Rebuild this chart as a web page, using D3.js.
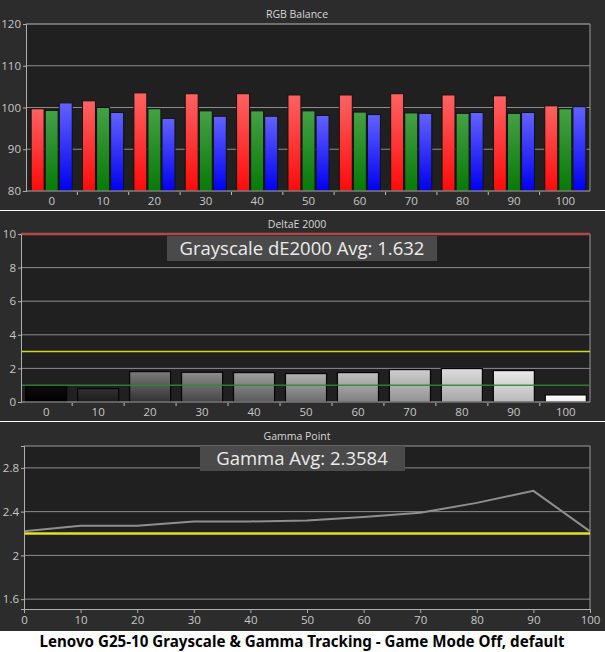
<!DOCTYPE html>
<html>
<head>
<meta charset="utf-8">
<script src="https://cdn.jsdelivr.net/npm/d3@7"></script>
<style>
  body { margin: 0; background: #fff; }
  svg { display: block; }
  .tick text { font-family: "Open Sans", sans-serif; font-size: 11.5px; fill: #c8c8c8; }
</style>
</head>
<body>
<svg id="chart" width="605" height="652"></svg>
<script>
// ---- data ----
const levels = [0, 10, 20, 30, 40, 50, 60, 70, 80, 90, 100];
const redVals   = [99.7, 101.6, 103.5, 103.3, 103.3, 103.0, 103.0, 103.3, 103.0, 102.8, 100.4];
const greenVals = [99.3, 100.0, 99.7, 99.2, 99.2, 99.2, 98.9, 98.7, 98.6, 98.6, 99.7];
const blueVals  = [101.1, 98.8, 97.4, 97.9, 97.9, 98.1, 98.3, 98.6, 98.8, 98.8, 100.2];
const rgbTicks = [80, 90, 100, 110, 120];

const deltaE = [0.93, 0.80, 1.81, 1.77, 1.75, 1.69, 1.75, 1.93, 1.99, 1.87, 0.42];
const deTicks = [0, 2, 4, 6, 8, 10];
const deAvg = "1.632";
const deLimits = [3, 1];      // yellow and green reference lines

const gammaVals = [2.22, 2.27, 2.27, 2.31, 2.31, 2.32, 2.35, 2.39, 2.48, 2.59, 2.22];
const gammaTarget = 2.2;
const gammaTicks = [1.6, 2, 2.4, 2.8];
const gammaAvg = "2.3584";

const caption = "Lenovo G25-10 Grayscale & Gamma Tracking - Game Mode Off, default";

const svg = d3.select("#chart");
const defs = svg.append("defs");

function grad(id, top, bottom) {
    const g = defs.append("linearGradient").attr("id", id)
        .attr("x1", 0).attr("y1", 0).attr("x2", 0).attr("y2", 1);
    g.append("stop").attr("offset", "0%").attr("stop-color", top);
    g.append("stop").attr("offset", "100%").attr("stop-color", bottom);
}
grad("gR", "#ff6262", "#ff0a0a");
grad("gG", "#45a045", "#067a06");
grad("gB", "#6262ff", "#0000f0");

// panel background + plot area + title
function panel(y0, y1, plot, title) {
    svg.append("rect").attr("x", 0).attr("y", y0).attr("width", 605).attr("height", y1 - y0)
        .attr("fill", "#2c2c2c");
    svg.append("rect").attr("x", plot.left).attr("y", plot.top)
        .attr("width", plot.right - plot.left).attr("height", plot.bottom - plot.top)
        .attr("fill", "#202020");
    svg.append("text").attr("x", 297).attr("y", plot.top - 6)
        .attr("text-anchor", "middle")
        .style("font-family", "Open Sans, sans-serif").style("font-size", "10.5px")
        .attr("fill", "#d8d8d8").text(title);
}

function styleAxis(g) {
    g.select(".domain").attr("stroke", "#b0b0b0");
    g.selectAll(".tick line").attr("stroke", "#b0b0b0");
}

function bandTicks(g, x, y, color) {
    const half = x.step() * x.paddingInner() / 2;
    g.selectAll(null).data(levels.slice(0, -1)).join("line")
        .attr("x1", d => x(d) + x.bandwidth() + half)
        .attr("x2", d => x(d) + x.bandwidth() + half)
        .attr("y1", y + 1).attr("y2", y + 4)
        .attr("stroke", color);
}

// ================= RGB Balance =================
{
    const p = { left: 26, right: 590, top: 24, bottom: 191 };
    panel(0, 210, p, "RGB Balance");
    const x = d3.scaleBand().domain(levels).range([p.left, p.right + 1])
        .paddingInner(0.2).paddingOuter(0.1);
    const y = d3.scaleLinear().domain([80, 120]).range([p.bottom, p.top]);
    const sub = d3.scaleBand().domain(["r", "g", "b"]).range([0, x.bandwidth()]).paddingInner(0.08);

    svg.append("g").selectAll("line").data(rgbTicks.slice(1)).join("line")
        .attr("x1", p.left).attr("x2", p.right)
        .attr("y1", d => y(d)).attr("y2", d => y(d))
        .attr("stroke", d => d === 120 ? "#b8b8b8" : "#8c8c8c");
    svg.append("line").attr("x1", p.right).attr("x2", p.right)
        .attr("y1", p.top).attr("y2", p.bottom).attr("stroke", "#9a9a9a");

    const series = [["r", redVals, "url(#gR)"], ["g", greenVals, "url(#gG)"], ["b", blueVals, "url(#gB)"]];
    series.forEach(([k, vals, fill]) => {
        svg.append("g").selectAll("rect").data(levels).join("rect")
            .attr("x", (d) => x(d) + sub(k))
            .attr("width", sub.bandwidth())
            .attr("y", (d, i) => y(vals[i]))
            .attr("height", (d, i) => y(80) - y(vals[i]))
            .attr("fill", fill).attr("stroke", "#111").attr("stroke-width", 1);
    });

    svg.append("g").attr("transform", `translate(${p.left},0)`)
        .call(d3.axisLeft(y).tickValues(rgbTicks).tickSize(3).tickPadding(2))
        .call(styleAxis);
    const xa = svg.append("g").attr("transform", `translate(0,${p.bottom})`)
        .call(d3.axisBottom(x).tickSize(0).tickPadding(6));
    xa.select(".domain").attr("d", `M${p.left},0H${p.right}`).attr("stroke", "#b0b0b0");
    bandTicks(svg.append("g"), x, p.bottom, "#c0c0c0");
}

// ================= DeltaE 2000 =================
{
    const p = { left: 21, right: 590, top: 234, bottom: 402 };
    panel(211, 421, p, "DeltaE 2000");
    const x = d3.scaleBand().domain(levels).range([p.left, p.right + 1])
        .paddingInner(0.21).paddingOuter(0.09);
    const y = d3.scaleLinear().domain([0, 10]).range([p.bottom, p.top]);

    svg.append("g").selectAll("line").data(deTicks.slice(1, -1)).join("line")
        .attr("x1", p.left).attr("x2", p.right)
        .attr("y1", d => y(d)).attr("y2", d => y(d))
        .attr("stroke", "#8c8c8c");
    svg.append("line").attr("x1", p.right).attr("x2", p.right)
        .attr("y1", p.top).attr("y2", p.bottom).attr("stroke", "#9a9a9a");

    // gray level bars: brightness follows the stimulus level
    const topShade = d3.scaleLinear().domain([0, 10, 20, 50, 90, 100]).range([12, 50, 122, 178, 234, 255]);
    const botShade = d3.scaleLinear().domain([0, 10, 20, 90, 100]).range([0, 28, 50, 185, 236]);
    levels.forEach(l => grad("gd" + l, d3.rgb(topShade(l), topShade(l), topShade(l)),
        d3.rgb(botShade(l), botShade(l), botShade(l))));
    svg.append("g").selectAll("rect").data(levels).join("rect")
        .attr("x", d => x(d)).attr("width", x.bandwidth())
        .attr("y", (d, i) => y(deltaE[i]))
        .attr("height", (d, i) => y(0) - y(deltaE[i]))
        .attr("fill", d => `url(#gd${d})`).attr("stroke", "#050505").attr("stroke-width", 1.2);

    // reference lines
    svg.append("line").attr("x1", p.left).attr("x2", p.right)
        .attr("y1", y(10)).attr("y2", y(10)).attr("stroke", "#b04a4a").attr("stroke-width", 2.5);
    svg.append("line").attr("x1", p.left).attr("x2", p.right)
        .attr("y1", y(deLimits[0])).attr("y2", y(deLimits[0])).attr("stroke", "#d4d42a").attr("stroke-width", 1.5);
    svg.append("line").attr("x1", p.left).attr("x2", p.right)
        .attr("y1", y(deLimits[1])).attr("y2", y(deLimits[1])).attr("stroke", "#2f8a2f").attr("stroke-width", 1.5)
        .attr("opacity", 0.9);

    svg.append("g").attr("transform", `translate(${p.left},0)`)
        .call(d3.axisLeft(y).tickValues(deTicks).tickSize(3).tickPadding(2))
        .call(styleAxis);
    const xa = svg.append("g").attr("transform", `translate(0,${p.bottom})`)
        .call(d3.axisBottom(x).tickSize(0).tickPadding(6));
    xa.select(".domain").attr("d", `M${p.left},0H${p.right}`).attr("stroke", "#b0b0b0");
    bandTicks(svg.append("g"), x, p.bottom, "#c0c0c0");

    svg.append("rect").attr("x", 167).attr("y", 236).attr("width", 270).attr("height", 25)
        .attr("fill", "#4a4a4a");
    svg.append("text").attr("x", 302).attr("y", 255).attr("text-anchor", "middle")
        .style("font-family", "Open Sans, sans-serif").style("font-size", "18.5px")
        .attr("fill", "#ececec").text("Grayscale dE2000 Avg: " + deAvg);
}

// ================= Gamma Point =================
{
    const p = { left: 24, right: 590, top: 446, bottom: 609 };
    panel(422, 631, p, "Gamma Point");
    const x = d3.scaleLinear().domain([0, 100]).range([p.left, p.right]);
    const y = d3.scaleLinear().domain([1.51, 3.0]).range([p.bottom, p.top]);

    svg.append("g").selectAll("line").data(gammaTicks).join("line")
        .attr("x1", p.left).attr("x2", p.right)
        .attr("y1", d => y(d)).attr("y2", d => y(d))
        .attr("stroke", "#8c8c8c");
    svg.append("path").attr("d", `M${p.left},${p.top}H${p.right}V${p.bottom}`)
        .attr("fill", "none").attr("stroke", "#9a9a9a");

    svg.append("line").attr("x1", p.left).attr("x2", p.right)
        .attr("y1", y(gammaTarget)).attr("y2", y(gammaTarget))
        .attr("stroke", "#e2e21e").attr("stroke-width", 2.5);
    svg.append("path").datum(gammaVals)
        .attr("d", d3.line().x((d, i) => x(levels[i])).y(d => y(d)))
        .attr("fill", "none").attr("stroke", "#8f8f8f").attr("stroke-width", 2);

    svg.append("g").attr("transform", `translate(${p.left},0)`)
        .call(d3.axisLeft(y).tickValues(gammaTicks).tickFormat(d3.format("")).tickSize(3).tickPadding(2))
        .call(styleAxis);
    svg.append("g").attr("transform", `translate(0,${p.bottom})`)
        .call(d3.axisBottom(x).tickValues(levels).tickSize(4).tickPadding(3))
        .call(styleAxis);

    svg.append("rect").attr("x", 200).attr("y", 446).attr("width", 205).attr("height", 25)
        .attr("fill", "#4a4a4a");
    svg.append("text").attr("x", 302).attr("y", 465).attr("text-anchor", "middle")
        .style("font-family", "Open Sans, sans-serif").style("font-size", "18.5px")
        .attr("fill", "#ececec").text("Gamma Avg: " + gammaAvg);
}

// separators and caption
svg.append("rect").attr("x", 0).attr("y", 631).attr("width", 605).attr("height", 21).attr("fill", "#fff");
svg.append("text").attr("x", 302).attr("y", 647).attr("text-anchor", "middle")
    .style("font-family", "Noto Sans, sans-serif").style("font-size", "16px").style("font-weight", "bold")
    .attr("textLength", 525).attr("lengthAdjust", "spacingAndGlyphs")
    .attr("fill", "#000").text(caption);
</script>
</body>
</html>
